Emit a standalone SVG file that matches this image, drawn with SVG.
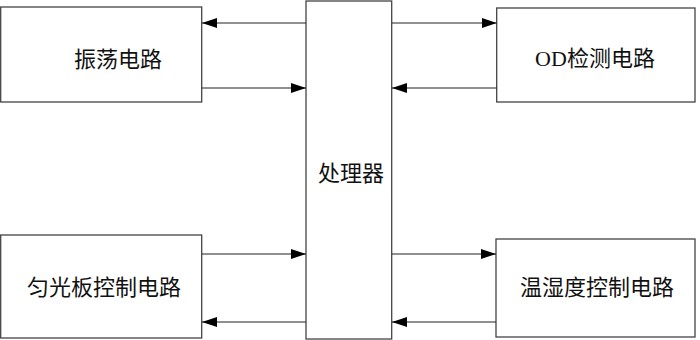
<svg xmlns="http://www.w3.org/2000/svg" width="700" height="340" viewBox="0 0 700 340">
<defs>
<marker id="ah" viewBox="0 0 15 10" refX="15" refY="5" markerWidth="15" markerHeight="10" markerUnits="userSpaceOnUse" orient="auto">
<path d="M0,0 L15,5 L0,10 z" fill="#000"/>
</marker>
<style>
.box{fill:#fff;stroke:#444;stroke-width:1.3}
.lbl{font-family:"Liberation Serif","Noto Sans CJK SC",serif;font-size:22px;fill:#111;text-anchor:middle;dominant-baseline:central}
.c{stroke:#222;stroke-width:1.2;fill:none;marker-end:url(#ah)}
</style>
</defs>
<rect width="700" height="340" fill="#fff"/>
<g id="osc"><rect class="box" x="0.7" y="7" width="201" height="95"/><text class="lbl" x="118" y="59">振荡电路</text></g>
<g id="cpu"><rect class="box" x="306" y="1" width="85.7" height="338"/><text class="lbl" x="351" y="173">处理器</text></g>
<g id="od"><rect class="box" x="496.7" y="8" width="198.3" height="94"/><text class="lbl" x="595" y="58">OD检测电路</text></g>
<g id="light"><rect class="box" x="0.7" y="235" width="201" height="103"/><text class="lbl" x="104" y="287">匀光板控制电路</text></g>
<g id="th"><rect class="box" x="496" y="239" width="199" height="98"/><text class="lbl" x="597" y="287">温湿度控制电路</text></g>
<g id="connectors">
<line class="c" x1="306" y1="23" x2="202" y2="23"/>
<line class="c" x1="202" y1="88" x2="306" y2="88"/>
<line class="c" x1="392" y1="23" x2="496.7" y2="23"/>
<line class="c" x1="496.7" y1="88" x2="392" y2="88"/>
<line class="c" x1="202" y1="254" x2="306" y2="254"/>
<line class="c" x1="306" y1="322" x2="202" y2="322"/>
<line class="c" x1="392" y1="254" x2="496" y2="254"/>
<line class="c" x1="496" y1="322" x2="392" y2="322"/>
</g>
</svg>
